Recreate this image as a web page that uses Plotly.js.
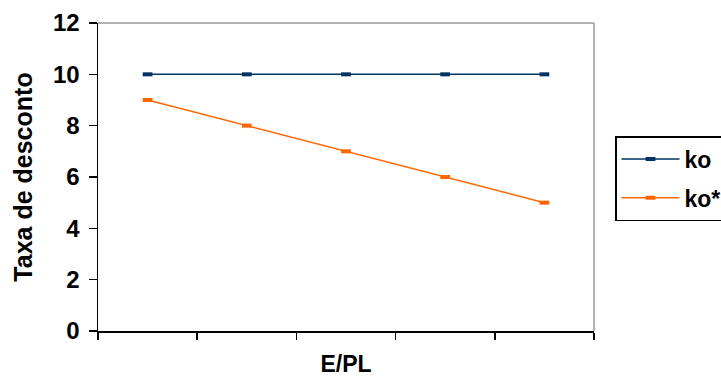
<!DOCTYPE html>
<html>
<head>
<meta charset="utf-8">
<script src="https://cdn.plot.ly/plotly-3.0.1.min.js"></script>
<style>html,body{margin:0;padding:0;background:#fff;}#chart{width:721px;height:378px;}</style>
</head>
<body>
<div id="chart"></div>
<script>
const categories = ['1', '2', '3', '4', '5'];
const koValues = [10, 10, 10, 10, 10];
const koStarValues = [9, 8, 7, 6, 5];
const seriesNames = ['ko', 'ko*'];
const yTickVals = [0, 2, 4, 6, 8, 10, 12];

const fam = '"Liberation Sans", Arial, sans-serif';
const bold = (s) => ({family: fam, size: s, color: '#000', weight: 'bold'});

const traces = [
  {
    x: categories, y: koValues, name: seriesNames[0], legendgroup: 'a', type: 'scatter', mode: 'lines+markers',
    line: {color: '#003366', width: 1.5},
    marker: {symbol: 'line-ew', size: 7, line: {color: '#003366', width: 4}}
  },
  {
    x: categories, y: koStarValues, name: seriesNames[1], legendgroup: 'b', type: 'scatter', mode: 'lines+markers',
    line: {color: '#FF6600', width: 1.5},
    marker: {symbol: 'line-ew', size: 7, line: {color: '#FF6600', width: 4}}
  }
];

const layout = {
  width: 721, height: 378,
  margin: {l: 98, r: 127, t: 23, b: 47, pad: 0},
  paper_bgcolor: '#fff', plot_bgcolor: '#fff',
  font: bold(23),
  showlegend: true,
  xaxis: {
    type: 'category', tickson: 'boundaries', showticklabels: false,
    ticks: 'outside', ticklen: 7, tickwidth: 1.5, tickcolor: '#000',
    showline: true, linecolor: '#000', linewidth: 1.5, showgrid: false, zeroline: false,
    range: [-0.5, 4.5], automargin: false,
    title: {text: 'E/PL', font: bold(23), standoff: 24}
  },
  yaxis: {
    range: [0, 12], tickvals: yTickVals, automargin: false,
    ticks: 'outside', ticklen: 8, tickwidth: 1.5, tickcolor: '#000',
    showline: true, linecolor: '#000', linewidth: 1.5, showgrid: false, zeroline: false,
    tickfont: bold(24), ticklabelstandoff: 4,
    title: {text: 'Taxa de desconto', font: bold(25), standoff: 13}
  },
  legend: {
    xref: 'container', yref: 'container',
    x: 615 / 721, y: 1 - 136 / 378, xanchor: 'left', yanchor: 'top',
    bordercolor: '#000', borderwidth: 1.5, bgcolor: '#fff',
    font: bold(23), traceorder: 'grouped',
    tracegroupgap: 6, itemwidth: 58
  },
  shapes: [
    {type: 'line', xref: 'paper', yref: 'paper', x0: 0, x1: 1, y0: 1, y1: 1, line: {color: '#999', width: 1.5}},
    {type: 'line', xref: 'paper', yref: 'paper', x0: 1, x1: 1, y0: 0, y1: 1, line: {color: '#999', width: 1.5}}
  ]
};

Plotly.newPlot('chart', traces, layout, {displayModeBar: false, staticPlot: true});
</script>
</body>
</html>
